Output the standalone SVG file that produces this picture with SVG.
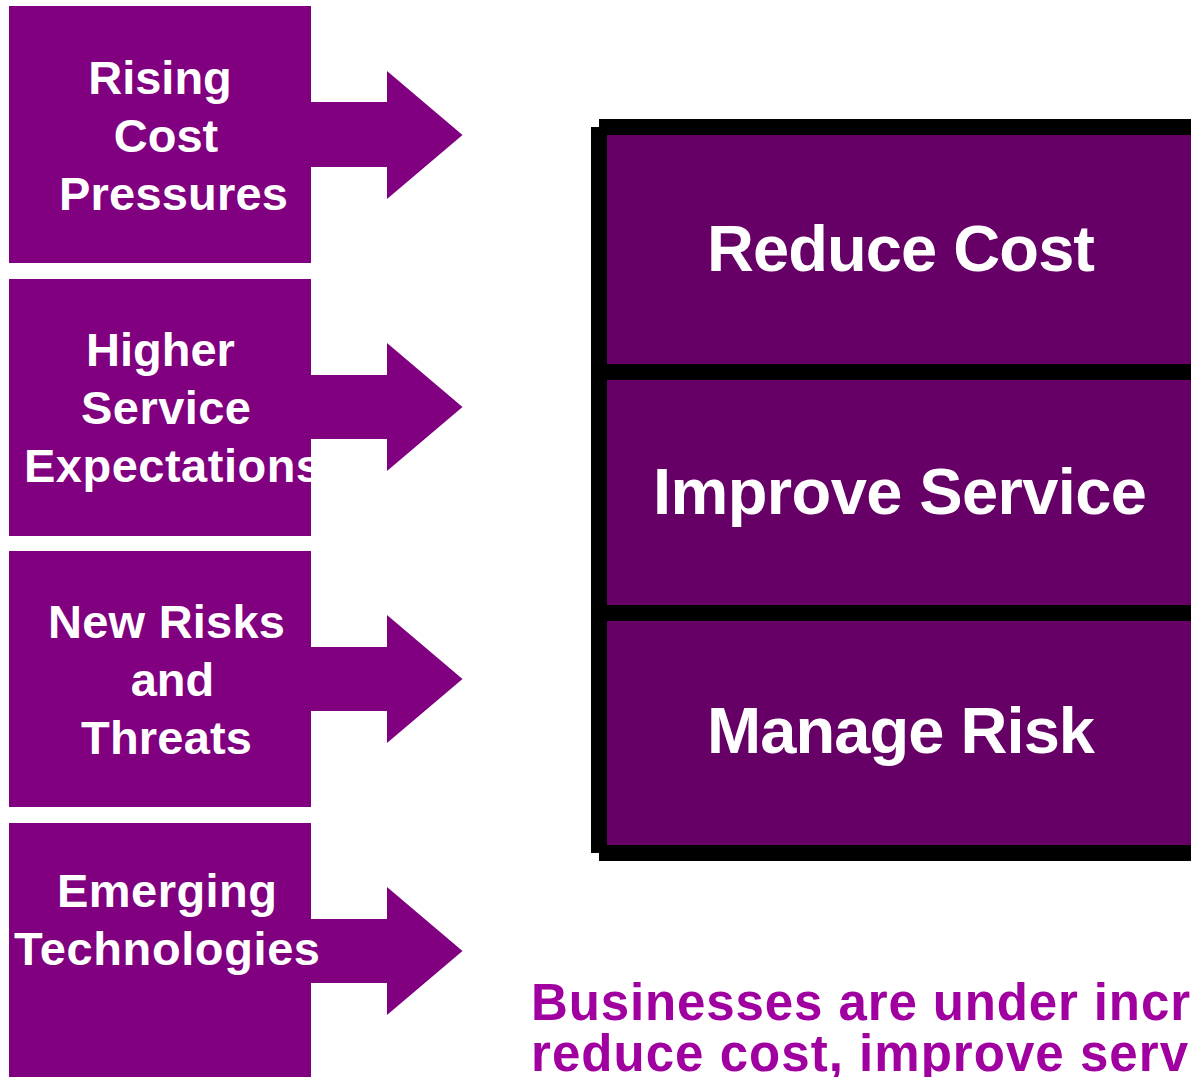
<svg xmlns="http://www.w3.org/2000/svg" width="1191" height="1077" viewBox="0 0 1191 1077">
<style>
.box{fill:#800080}
.arrow{fill:#800080}
.panel{fill:#660066}
.lt{font-family:"Liberation Sans",Arial,sans-serif;font-weight:bold;font-size:47px;fill:#fff;text-anchor:middle}
.pt{font-family:"Liberation Sans",Arial,sans-serif;font-weight:bold;font-size:65px;fill:#fff;text-anchor:middle}
.bt{font-family:"Liberation Sans",Arial,sans-serif;font-weight:bold;font-size:51px;fill:#A000A0}
</style>
<rect width="1191" height="1077" fill="#fff"/>
<g id="connectors">
<polygon class="arrow" points="305,102 387,102 387,71 462.5,135 387,199 387,167 305,167"/>
<polygon class="arrow" points="305,375 387,375 387,343 462.5,407 387,471 387,439 305,439"/>
<polygon class="arrow" points="305,647 387,647 387,615 462.5,679 387,743 387,711 305,711"/>
<polygon class="arrow" points="305,919 387,919 387,887 462.5,951 387,1015 387,983 305,983"/>
</g>
<g id="node-rising">
<rect class="box" x="9" y="6" width="302" height="257"/>
<text class="lt" x="160" y="94">Rising</text>
<text class="lt" x="166" y="152">Cost</text>
<text class="lt" x="173.5" y="210" textLength="229">Pressures</text>
</g>
<g id="node-higher">
<rect class="box" x="9" y="279" width="302" height="257"/>
<text class="lt" x="160.5" y="366">Higher</text>
<text class="lt" x="166" y="424" textLength="170">Service</text>
<text class="lt" x="173" y="482" textLength="298">Expectations</text>
</g>
<g id="node-risks">
<rect class="box" x="9" y="551" width="302" height="256"/>
<text class="lt" x="166.5" y="638" textLength="237">New Risks</text>
<text class="lt" x="172.5" y="696">and</text>
<text class="lt" x="166.5" y="754" textLength="171">Threats</text>
</g>
<g id="node-tech">
<rect class="box" x="9" y="823" width="302" height="260"/>
<text class="lt" x="167" y="907" textLength="220">Emerging</text>
<text class="lt" x="167" y="965" textLength="306">Technologies</text>
</g>
<g id="frame">
<rect x="599" y="119" width="600" height="742" fill="#000"/>
<rect x="591" y="127" width="20" height="726" fill="#000"/>
</g>
<g id="node-reduce">
<rect class="panel" x="607" y="135" width="590" height="229"/>
<text class="pt" x="901" y="271" textLength="388">Reduce Cost</text>
</g>
<g id="node-improve">
<rect class="panel" x="607" y="380" width="590" height="225"/>
<text class="pt" x="900" y="514" textLength="494">Improve Service</text>
</g>
<g id="node-risk">
<rect class="panel" x="607" y="621" width="590" height="224"/>
<text class="pt" x="901" y="753" textLength="388">Manage Risk</text>
</g>
<g id="caption">
<text class="bt" x="531" y="1020" textLength="659">Businesses are under incr</text>
<text class="bt" x="531" y="1071" textLength="657">reduce cost, improve serv</text>
</g>
</svg>
